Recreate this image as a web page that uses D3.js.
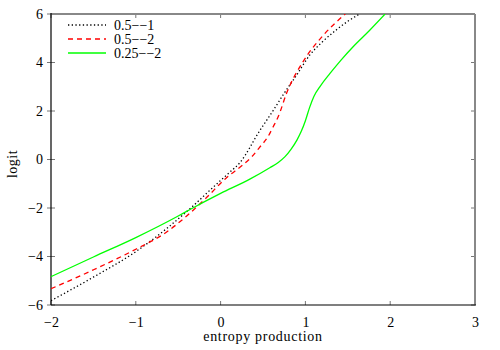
<!DOCTYPE html>
<html>
<head>
<meta charset="utf-8">
<script src="https://cdn.jsdelivr.net/npm/d3@7/dist/d3.min.js"></script>
<style>
  html, body { margin: 0; padding: 0; background: #fff; }
  svg { display: block; }
  svg text { font-family: 'Liberation Serif', 'Times New Roman', 'DejaVu Serif', serif; fill: #000; }
</style>
</head>
<body>
<svg id="chart" width="500" height="350"></svg>
<script>
// ---- data ----
const seriesNames = ["0.5\u2212\u22121", "0.5\u2212\u22122", "0.25\u2212\u22122"];
const blackX = [-2, -1.5, -1.0, -0.62, -0.45, -0.32, -0.09, 0.1, 0.23, 0.46, 0.62, 0.74, 0.9, 1.05, 1.2, 1.37, 1.5, 1.64];
const blackY = [-5.82, -4.85, -3.8, -2.8, -2.3, -1.9, -1.15, -0.55, -0.12, 1.18, 2.02, 2.68, 3.5, 4.3, 4.85, 5.36, 5.7, 6.0];
const redX = [-2, -1.5, -1.0, -0.64, -0.4, -0.18, 0.07, 0.27, 0.37, 0.46, 0.56, 0.62, 0.68, 0.78, 0.975, 1.21, 1.47];
const redY = [-5.33, -4.55, -3.7, -3.0, -2.33, -1.62, -0.75, -0.2, 0.12, 0.5, 0.95, 1.35, 1.77, 2.75, 4.05, 5.12, 6.0];
const greenX = [-2, -1.5, -1.0, -0.5, -0.36, 0.0, 0.35, 0.58, 0.68, 0.76, 0.83, 0.9, 0.95, 1.0, 1.05, 1.1, 1.18, 1.29, 1.42, 1.56, 1.75, 1.94];
const greenY = [-4.83, -4.02, -3.22, -2.33, -2.06, -1.4, -0.8, -0.34, -0.12, 0.12, 0.42, 0.8, 1.15, 1.6, 2.15, 2.6, 3.05, 3.55, 4.1, 4.64, 5.3, 6.0];
const xTicks = [-2, -1, 0, 1, 2, 3];
const yTicks = [-6, -4, -2, 0, 2, 4, 6];
const xLabel = "entropy production";
const yLabel = "logit";

// ---- layout ----
const FONT = "'Liberation Serif', 'Times New Roman', 'DejaVu Serif', serif";
const svg = d3.select("#chart");
const L = 51, R = 475, T = 14, B = 305;
const x = d3.scaleLinear().domain([-2, 3]).range([L, R]);
const y = d3.scaleLinear().domain([-6, 6]).range([B, T]);
const fmt = d => (d < 0 ? "\u2212" + Math.abs(d) : String(d));

svg.append("defs").append("clipPath").attr("id", "clip")
  .append("rect").attr("x", L).attr("y", T).attr("width", R - L).attr("height", B - T);

// ticks
const tickColor = "#777";
const g = svg.append("g");
xTicks.forEach(t => {
  g.append("line").attr("x1", x(t)).attr("x2", x(t)).attr("y1", B).attr("y2", B - 4).attr("stroke", tickColor).attr("stroke-width", 1);
  g.append("line").attr("x1", x(t)).attr("x2", x(t)).attr("y1", T).attr("y2", T + 4).attr("stroke", tickColor).attr("stroke-width", 1);
});
yTicks.forEach(t => {
  g.append("line").attr("x1", L - 4).attr("x2", L + 4).attr("y1", y(t)).attr("y2", y(t)).attr("stroke", tickColor).attr("stroke-width", 1);
  g.append("line").attr("x1", R).attr("x2", R - 4).attr("y1", y(t)).attr("y2", y(t)).attr("stroke", tickColor).attr("stroke-width", 1);
});

// axis labels through d3 axes
const xAxis = d3.axisBottom(x).tickValues(xTicks).tickFormat(fmt).tickSize(0).tickPadding(12);
const yAxis = d3.axisLeft(y).tickValues(yTicks).tickFormat(fmt).tickSize(0).tickPadding(8);
const gx = svg.append("g").attr("transform", `translate(0,${B})`).call(xAxis);
const gy = svg.append("g").attr("transform", `translate(${L},0)`).call(yAxis);
[gx, gy].forEach(a => {
  a.select(".domain").remove();
  a.attr("font-family", FONT).attr("font-size", 14);
  a.selectAll("text").attr("font-family", FONT).style("font-family", FONT).style("font-size", "14px").attr("fill", "#000");
});

// frame
svg.append("line").attr("x1", L).attr("x2", R).attr("y1", T).attr("y2", T).attr("stroke", "#888").attr("stroke-width", 2);
svg.append("line").attr("x1", R).attr("x2", R).attr("y1", T).attr("y2", B).attr("stroke", "#888").attr("stroke-width", 2);
svg.append("line").attr("x1", L).attr("x2", R + 1).attr("y1", B).attr("y2", B).attr("stroke", "#000").attr("stroke-width", 1.2);
svg.append("line").attr("x1", L).attr("x2", L).attr("y1", T - 1).attr("y2", B).attr("stroke", "#000").attr("stroke-width", 1.2);

// titles
svg.append("text").attr("x", 263).attr("y", 341).attr("text-anchor", "middle")
  .attr("font-family", FONT).style("font-family", FONT)
  .style("font-size", "14px").style("letter-spacing", "0.7px").text(xLabel);
svg.append("text").attr("transform", "translate(17,164) rotate(-90)").attr("text-anchor", "middle")
  .attr("font-family", FONT).style("font-family", FONT)
  .style("font-size", "14px").style("letter-spacing", "0.5px").text(yLabel);

// series
const series = [
  { name: seriesNames[0], xs: blackX, ys: blackY, color: "#000", dash: "1.3,2.4" },
  { name: seriesNames[1], xs: redX, ys: redY, color: "#ff0000", dash: "5,4" },
  { name: seriesNames[2], xs: greenX, ys: greenY, color: "#00ff00", dash: null }
];
const line = d3.line().x(d => x(d[0])).y(d => y(d[1])).curve(d3.curveMonotoneX);
const plot = svg.append("g").attr("clip-path", "url(#clip)");
series.forEach(s => {
  const pts = s.xs.map((v, i) => [v, s.ys[i]]);
  plot.append("path").datum(pts).attr("d", line)
    .attr("fill", "none").attr("stroke", s.color).attr("stroke-width", 1.3)
    .attr("stroke-dasharray", s.dash);
});

// legend
const leg = svg.append("g");
series.forEach((s, i) => {
  const ly = 25 + i * 14;
  leg.append("line").attr("x1", 68).attr("x2", 106).attr("y1", ly).attr("y2", ly)
    .attr("stroke", s.color).attr("stroke-width", 1.3).attr("stroke-dasharray", s.dash);
  leg.append("text").attr("x", 114).attr("y", ly + 4.5)
    .attr("font-family", FONT).style("font-family", FONT)
    .style("font-size", "14px").text(s.name);
});
</script>
</body>
</html>
